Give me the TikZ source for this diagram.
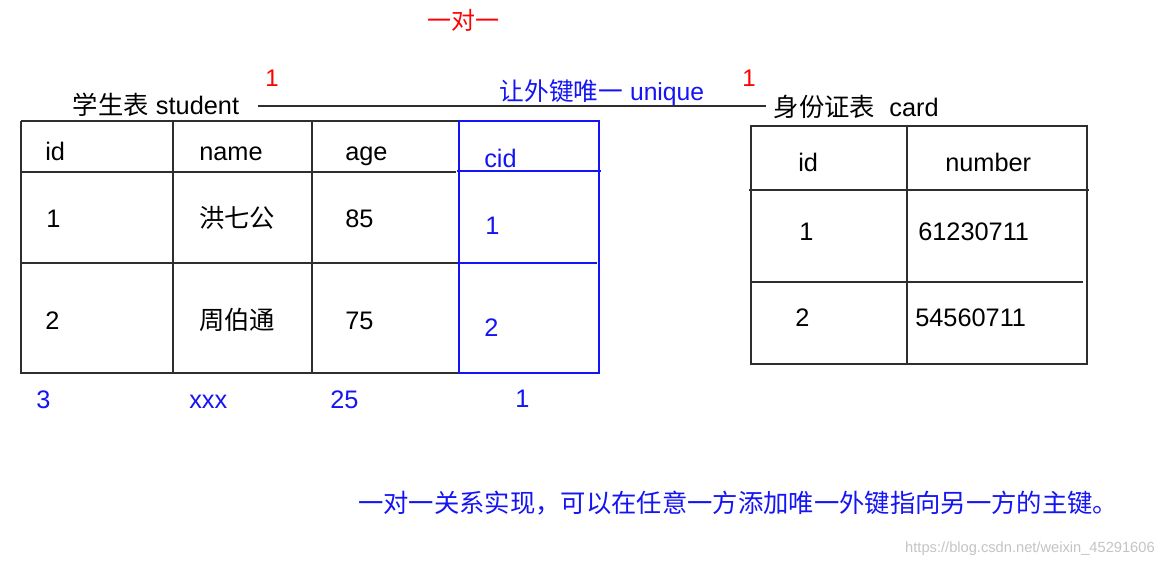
\documentclass[tikz,border=0pt]{standalone}
\usepackage{fontspec}
\setmainfont{Liberation Sans}
\newfontfamily\cjk{Noto Sans CJK SC}
\usetikzlibrary{positioning}
\definecolor{keyRed}{HTML}{FF0000}
\definecolor{keyBlue}{HTML}{1414F5}
\definecolor{ruleDark}{HTML}{2E2E2E}
\definecolor{markGray}{HTML}{C4C4C4}
\tikzset{
  cell/.style={font=\fontsize{19}{22}\selectfont, text=black, inner sep=0pt, anchor=west,
    text height=13.5pt, text depth=0pt},
  fkcell/.style={cell, text=keyBlue},
  tabletitle/.style={font=\fontsize{19}{22}\selectfont, text=black, inner sep=2pt, anchor=west},
  cardmark/.style={font=\fontsize{18}{22}\selectfont, text=keyRed, inner sep=0pt},
  tableline/.style={draw=ruleDark, line width=1.1pt},
  fkline/.style={draw=keyBlue, line width=0.9pt},
  linkline/.style={draw=ruleDark, line width=1.1pt},
}

\begin{document}
\begin{tikzpicture}[x=0.75pt, y=-0.75pt]
  \useasboundingbox[fill=white] (0,0) rectangle (1164,568);

  % === Heading ===
  \node[cardmark] (relHead) at (463,20) {\cjk 一对一};

  % === Table titles and the link between them ===
  \node[tabletitle] (stuTitle) at (70,105) {{\cjk 学生表} student};
  \node[tabletitle] (cardTitle) at (771,107) {{\cjk 身份证表}\ \ card};
  \draw[linkline] (stuTitle.east) ++(16,1) coordinate (linkA) -- ([xshift=-4]cardTitle.west |- linkA) coordinate (linkB);
  \node[cardmark] (markA) at (272,78) {1};
  \node[cardmark] (markB) at (749,78) {1};
  \node[font=\fontsize{18.5}{22}\selectfont, text=keyBlue, inner sep=0pt] (fkNote) at (602,93) {{\cjk 让外键唯一} unique};

  % === Student table ===
  \draw[tableline] (21,121) -- (459,121);
  \draw[tableline] (21,121) -- (21,373) -- (459,373);
  \foreach \xc in {173,312}
    \draw[tableline] (\xc,121) -- (\xc,373);
  \draw[tableline] (21,172) -- (456,172);
  \draw[tableline] (21,263) -- (458,263);
  % foreign key column
  \draw[fkline] (459,121) rectangle (599,373);
  \draw[fkline] (457,171) -- (601,171);
  \draw[fkline] (457,263) -- (597,263);

  \node[cell] (sHeadId) at (45,151) {id};
  \node[cell] (sHeadName) at (199,151) {name};
  \node[cell] (sHeadAge) at (345,151) {age};
  \node[fkcell] (sHeadCid) at (484,158) {cid};

  \node[cell] (sOneId) at (46,218) {1};
  \node[cell] (sOneName) at (199,218) {\cjk 洪七公};
  \node[cell] (sOneAge) at (345,218) {85};
  \node[fkcell] (sOneCid) at (485,225) {1};

  \node[cell] (sTwoId) at (45,320) {2};
  \node[cell] (sTwoName) at (199,320) {\cjk 周伯通};
  \node[cell] (sTwoAge) at (345,320) {75};
  \node[fkcell] (sTwoCid) at (484,327) {2};

  % extra row below the table
  \node[fkcell] (xId) at (36,399) {3};
  \node[fkcell] (xName) at (189,399) {xxx};
  \node[fkcell] (xAge) at (330,399) {25};
  \node[fkcell] (xCid) at (515,398) {1};

  % === Card table ===
  \draw[tableline] (751,126) rectangle (1087,364);
  \draw[tableline] (907,126) -- (907,364);
  \draw[tableline] (749,190) -- (1089,190);
  \draw[tableline] (751,282) -- (1083,282);

  \node[cell] (cHeadId) at (798,162) {id};
  \node[cell] (cHeadNum) at (945,162) {number};
  \node[cell] (cOneId) at (799,231) {1};
  \node[cell] (cOneNum) at (918,231) {61230711};
  \node[cell] (cTwoId) at (795,317) {2};
  \node[cell] (cTwoNum) at (915,317) {54560711};

  % === Note and watermark ===
  \node[font=\fontsize{19}{22}\selectfont, text=keyBlue, inner sep=0pt, anchor=west] (rule) at (358,503)
    {\cjk 一对一关系实现，可以在任意一方添加唯一外键指向另一方的主键。};
  \node[font=\fontsize{11}{13}\selectfont, text=markGray, inner sep=0pt, anchor=east] (mark) at (1155,549)
    {https://blog.csdn.net/weixin\_45291606};
\end{tikzpicture}
\end{document}
